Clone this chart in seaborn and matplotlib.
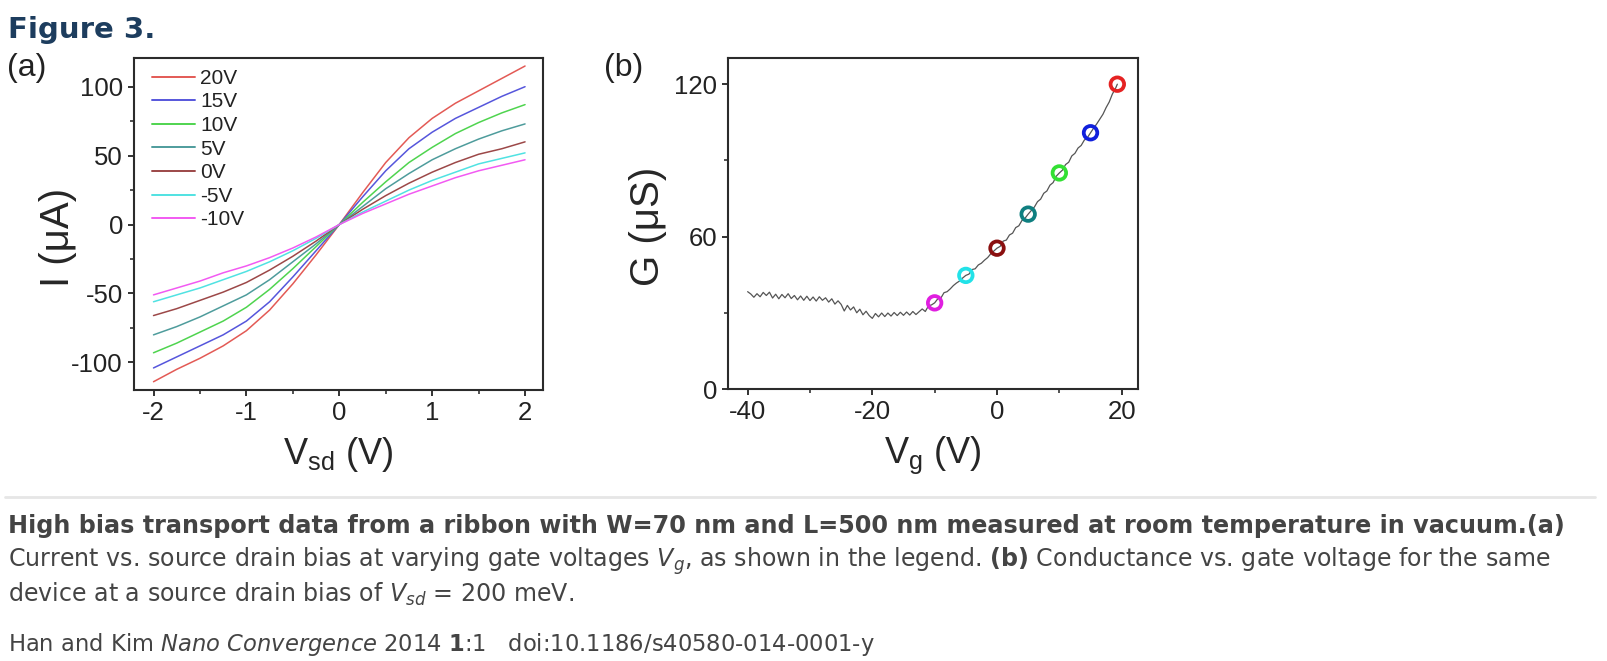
import matplotlib
matplotlib.use("Agg")
import numpy as np
import pandas as pd
import seaborn as sns
import matplotlib.pyplot as plt
from matplotlib.lines import Line2D
from matplotlib.ticker import MultipleLocator

# ---- panel (a): current vs source-drain bias for several gate voltages
vsd = [-2.0, -1.75, -1.5, -1.25, -1.0, -0.75, -0.5, -0.25, 0.0,
       0.25, 0.5, 0.75, 1.0, 1.25, 1.5, 1.75, 2.0]
gate_labels = ['20V', '15V', '10V', '5V', '0V', '-5V', '-10V']
i_20 = [-114, -105, -97, -88, -77, -62, -43, -22, 0, 23, 45, 63, 77, 88, 97, 106, 115]
i_15 = [-104, -96, -88, -80, -70, -56, -38, -19, 0, 20, 39, 55, 67, 77, 85, 93, 100]
i_10 = [-93, -86, -78, -70, -60, -47, -32, -16, 0, 16, 31, 45, 56, 66, 74, 81, 87]
i_5 = [-80, -74, -67, -59, -51, -40, -27, -14, 0, 13, 26, 37, 47, 55, 62, 68, 73]
i_0 = [-66, -61, -55, -49, -42, -33, -23, -12, 0, 11, 21, 30, 38, 45, 51, 55, 60]
i_m5 = [-56, -51, -46, -40, -34, -27, -19, -10, 0, 9, 17, 25, 32, 38, 44, 48, 52]
i_m10 = [-51, -46, -41, -35, -30, -24, -17, -9, 0, 8, 15, 22, 28, 34, 39, 43, 47]
line_colors = ['#e35a55', '#5656dc', '#4fd44f', '#4e9c9c', '#9c4848', '#50e2e2', '#f25af2']

# ---- panel (b): conductance vs gate voltage
trace_vg = [-40.0, -39.5, -39.0, -38.5, -38.0, -37.5, -37.0, -36.5, -36.0, -35.5,
            -35.0, -34.5, -34.0, -33.5, -33.0, -32.5, -32.0, -31.5, -31.0, -30.5,
            -30.0, -29.5, -29.0, -28.5, -28.0, -27.5, -27.0, -26.5, -26.0, -25.5,
            -25.0, -24.5, -24.0, -23.5, -23.0, -22.5, -22.0, -21.5, -21.0, -20.5,
            -20.0, -19.5, -19.0, -18.5, -18.0, -17.5, -17.0, -16.5, -16.0, -15.5,
            -15.0, -14.5, -14.0, -13.5, -13.0, -12.5, -12.0, -11.5, -11.0, -10.5,
            -10.0, -9.5, -9.0, -8.5, -8.0, -7.5, -7.0, -6.5, -6.0, -5.5,
            -5.0, -4.5, -4.0, -3.5, -3.0, -2.5, -2.0, -1.5, -1.0, -0.5,
            0.0, 0.5, 1.0, 1.5, 2.0, 2.5, 3.0, 3.5, 4.0, 4.5,
            5.0, 5.5, 6.0, 6.5, 7.0, 7.5, 8.0, 8.5, 9.0, 9.5,
            10.0, 10.5, 11.0, 11.5, 12.0, 12.5, 13.0, 13.5, 14.0, 14.5,
            15.0, 15.5, 16.0, 16.5, 17.0, 17.5, 18.0, 18.5, 19.0, 19.3]
trace_g = [38.4, 37.5, 36.2, 37.6, 36.4, 38.1, 36.9, 38.2, 35.9, 37.4,
           35.6, 37.3, 36.0, 37.6, 35.7, 36.9, 35.2, 36.7, 35.0, 36.6,
           34.9, 36.3, 34.7, 36.4, 35.0, 36.0, 34.3, 35.6, 33.5, 34.8,
           33.4, 30.8, 33.0, 31.2, 32.4, 30.1, 31.5, 29.3, 30.7, 29.0,
           27.9, 29.8, 28.5, 30.0, 28.6, 30.0, 28.8, 30.2, 29.0, 30.3,
           29.1, 30.4, 29.2, 30.6, 29.4, 30.5, 31.6, 30.6, 32.8, 33.2,
           34.0, 35.6, 35.9, 38.0, 38.4, 39.5, 40.8, 41.8, 42.6, 43.8,
           44.8, 45.3, 47.1, 47.4, 48.9, 49.6, 50.8, 51.8, 53.3, 54.4,
           55.5, 56.2, 58.3, 58.7, 60.7, 61.4, 63.6, 64.3, 66.4, 67.3,
           68.9, 70.3, 71.7, 73.8, 74.8, 77.1, 78.0, 80.3, 81.3, 83.8,
           85.1, 86.2, 88.4, 89.3, 91.8, 92.8, 94.9, 95.9, 98.0, 99.0,
           100.9, 102.7, 104.4, 106.3, 108.2, 110.8, 113.0, 116.1, 118.3, 120.0]
mark_vg = [-10, -5, 0, 5, 10, 15, 19.3]
mark_g = [34.0, 44.8, 55.5, 68.9, 85.1, 100.9, 120.0]
mark_labels = ['-10V', '-5V', '0V', '5V', '10V', '15V', '20V']
mark_colors = ['#e01ee0', '#22e2e8', '#8a0f0f', '#0f7f80', '#33e033', '#1020dc', '#e52222']

sns.set_theme(style='ticks')
plt.rcParams['font.family'] = ['Liberation Sans', 'DejaVu Sans']
plt.rcParams['axes.unicode_minus'] = False
plt.rcParams['mathtext.fontset'] = 'custom'
plt.rcParams['mathtext.rm'] = 'Liberation Sans'
plt.rcParams['mathtext.it'] = 'DejaVu Sans:italic'
plt.rcParams['mathtext.bf'] = 'DejaVu Sans:bold'

W, H = 1608, 661
fig = plt.figure(figsize=(W / 100, H / 100), dpi=100)
fig.patch.set_facecolor('white')

ax_a = fig.add_axes([134 / W, 1 - 390 / H, 408.7 / W, 331.7 / H])
ax_b = fig.add_axes([728.3 / W, 1 - 389.3 / H, 409.6 / W, 331.8 / H])

# panel (a)
curves = [i_20, i_15, i_10, i_5, i_0, i_m5, i_m10]
df_a = pd.DataFrame({
    'Vsd': vsd * len(curves),
    'I': [v for c in curves for v in c],
    'Vg': [lab for lab in gate_labels for _ in vsd],
})
sns.lineplot(data=df_a, x='Vsd', y='I', hue='Vg', hue_order=gate_labels,
             palette=line_colors, estimator=None, sort=False, lw=1.1,
             legend=False, ax=ax_a)
handles = [Line2D([], [], color=c, lw=1.4) for c in line_colors]
leg = ax_a.legend(handles, gate_labels, loc='upper left', bbox_to_anchor=(0.044, 0.968),
                  frameon=False, fontsize=15, handlelength=2.05, handletextpad=0.25,
                  labelspacing=0.22, borderpad=0, borderaxespad=0)
for t in leg.get_texts():
    t.set_color('#222222')

ax_a.set_xlim(-2.21, 2.19)
ax_a.set_ylim(-120, 120.6)
ax_a.xaxis.set_major_locator(MultipleLocator(1))
ax_a.xaxis.set_minor_locator(MultipleLocator(0.5))
ax_a.yaxis.set_major_locator(MultipleLocator(50))
ax_a.yaxis.set_minor_locator(MultipleLocator(25))
ax_a.set_xlabel('V$_{\\mathrm{sd}}$ (V)', fontsize=26)
ax_a.set_ylabel('I (μA)', fontsize=29)
ax_a.xaxis.set_label_coords(0.5, -0.135)
ax_a.yaxis.set_label_coords(-0.139, 0.46)

# panel (b)
sns.lineplot(x=trace_vg, y=trace_g, color='#555555', lw=0.9, estimator=None,
             sort=False, ax=ax_b)
sns.scatterplot(x=mark_vg, y=mark_g, hue=mark_labels, hue_order=mark_labels,
                palette=mark_colors, s=95, legend=False, zorder=5, ax=ax_b)
rings = ax_b.collections[-1]
fc = rings.get_facecolors()
rings.set_facecolors('none')
rings.set_edgecolors(fc)
rings.set_linewidths(2.7)

ax_b.set_xlim(-43.1, 22.6)
ax_b.set_ylim(0, 130.5)
ax_b.xaxis.set_major_locator(MultipleLocator(20))
ax_b.xaxis.set_minor_locator(MultipleLocator(10))
ax_b.yaxis.set_major_locator(MultipleLocator(60))
ax_b.yaxis.set_minor_locator(MultipleLocator(30))
ax_b.set_xlabel('V$_{\\mathrm{g}}$ (V)', fontsize=26)
ax_b.set_ylabel('G (μS)', fontsize=29)
ax_b.xaxis.set_label_coords(0.5, -0.137)
ax_b.yaxis.set_label_coords(-0.150, 0.49)

for ax in (ax_a, ax_b):
    for sp in ax.spines.values():
        sp.set_visible(True)
        sp.set_linewidth(1.5)
        sp.set_color('#2b2b2b')
    ax.tick_params(which='major', direction='out', length=4, width=1.3,
                   labelsize=18.5, pad=4, colors='#222222')
    ax.tick_params(which='minor', direction='out', length=3, width=1.1, colors='#222222')
    ax.set_facecolor('white')

# panel letters and figure title
fig.text(7 / W, 1 - 76 / H, '(a)', fontsize=23, va='baseline', color='#222222')
fig.text(604 / W, 1 - 76 / H, '(b)', fontsize=23, va='baseline', color='#222222')
fig.text(8 / W, 1 - 38 / H, 'Figure 3.', fontsize=21, fontweight='bold',
         family='DejaVu Sans', color='#1d3d5e', va='baseline')

# separator and caption
fig.add_artist(Line2D([5 / W, 1595 / W], [1 - 497 / H, 1 - 497 / H],
                      color='#e6e6e6', lw=2))
cap_kw = dict(family='DejaVu Sans', va='baseline', color='#444444')
fig.text(8 / W, 1 - 533 / H,
         'High bias transport data from a ribbon with W=70 nm and L=500 nm measured at room temperature in vacuum.(a)',
         fontweight='bold', fontsize=17.2, **cap_kw)
fig.text(8 / W, 1 - 567 / H,
         'Current vs. source drain bias at varying gate voltages $V_g$, as shown in the legend. '
         '$\\mathbf{(b)}$ Conductance vs. gate voltage for the same', fontsize=17.15, **cap_kw)
fig.text(8 / W, 1 - 602 / H, 'device at a source drain bias of $V_{sd}$ = 200 meV.',
         fontsize=17.15, **cap_kw)
fig.text(8 / W, 1 - 651 / H,
         'Han and Kim $\\mathit{Nano\\ Convergence}$ 2014 $\\mathbf{1}$:1   doi:10.1186/s40580-014-0001-y',
         fontsize=16.3, **cap_kw)

fig.savefig('out.png', dpi=100, facecolor='white')
